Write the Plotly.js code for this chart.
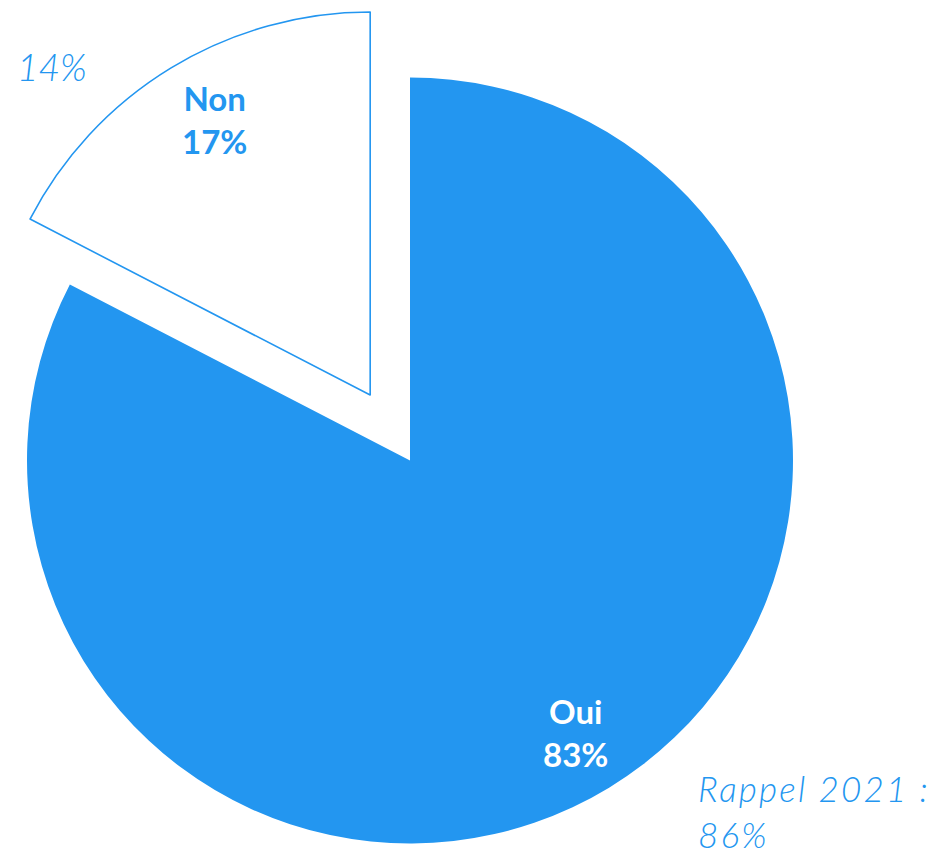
<!DOCTYPE html>
<html>
<head>
<meta charset="utf-8">
<script src="https://cdn.plot.ly/plotly-3.0.1.min.js"></script>
<style>
  html, body { margin: 0; padding: 0; overflow: hidden; background: #fff; width: 938px; height: 849px; }
  #chart { position: absolute; left: -50px; top: 0; width: 988px; height: 849px; }
  .spaced { letter-spacing: 2.2px; }
</style>
</head>
<body>
<div id="chart"></div>
<script>
// ---- data ----
const labels = ['Oui', 'Non'];
const values = [82.6, 17.4];          // slice sizes
const shownPct = [83, 17];            // percentages printed on the chart
const recallLabel = 'Rappel 2021 :';
const recallOui = 86;   // 2021 value for "Oui"
const recallNon = 14;   // 2021 value for "Non"
const pulledSlice = 'Non';

// ---- styling / geometry ----
const BLUE = '#2396F0';
const W = 988, H = 849, OFFSET = 50;  // plot div shifted 50px left
const R = 383;
const C1 = {x: 410 + OFFSET, y: 460.5};  // centre of the main pie (pixels)
const PULL = 0.2;
const LABEL_FRAC = 0.83;
const LABEL_NUDGE = {Oui: [0, 0], Non: [10, -4]};

const total = values.reduce((a, b) => a + b, 0);
// bisector angles (clockwise from 12 o'clock)
let acc = 0;
const mids = values.map(v => { const m = (acc + v / 2) / total * 2 * Math.PI; acc += v; return m; });
const pIdx = labels.indexOf(pulledSlice);
const C2 = {
  x: C1.x + Math.sin(mids[pIdx]) * PULL * R,
  y: C1.y - Math.cos(mids[pIdx]) * PULL * R
};

function domainFor(c) {
  return {
    x: [(c.x - R) / W, (c.x + R) / W],
    y: [(H - (c.y + R)) / H, (H - (c.y - R)) / H]
  };
}

const fills1 = labels.map(l => l === pulledSlice ? 'rgba(0,0,0,0)' : BLUE);
const fills2 = labels.map(l => l === pulledSlice ? '#ffffff' : 'rgba(0,0,0,0)');
const lines2 = labels.map(l => l === pulledSlice ? BLUE : 'rgba(0,0,0,0)');

const common = {
  type: 'pie', labels: labels, values: values, sort: false,
  direction: 'clockwise', rotation: 0, textinfo: 'none',
  hoverinfo: 'none', showlegend: false
};

const traces = [
  Object.assign({}, common, {
    domain: domainFor(C1),
    marker: {colors: fills1, line: {width: 0}}
  }),
  Object.assign({}, common, {
    domain: domainFor(C2),
    marker: {colors: fills2, line: {color: lines2, width: 1.6}}
  })
];

const annotations = labels.map((l, i) => {
  const c = (l === pulledSlice) ? C2 : C1;
  const px = c.x + Math.sin(mids[i]) * LABEL_FRAC * R + LABEL_NUDGE[l][0];
  const py = c.y - Math.cos(mids[i]) * LABEL_FRAC * R + LABEL_NUDGE[l][1];
  return {
    xref: 'paper', yref: 'paper', x: px / W, y: 1 - py / H,
    xanchor: 'center', yanchor: 'middle', showarrow: false,
    text: '<b>' + l + '<br>' + shownPct[i] + '%</b>',
    font: {family: 'Lato, sans-serif', size: 33, color: l === pulledSlice ? BLUE : '#ffffff'}
  };
});

annotations.push({
  xref: 'paper', yref: 'paper', x: (15 + OFFSET) / W, y: 1 - 66 / H,
  xanchor: 'left', yanchor: 'middle', showarrow: false,
  text: recallNon + '%',
  font: {family: 'Lato, sans-serif', size: 37, color: BLUE, weight: 300, style: 'italic'}
});
annotations.push({
  xref: 'paper', yref: 'paper', x: (696 + OFFSET) / W, y: 1 - 811 / H,
  xanchor: 'left', yanchor: 'middle', showarrow: false, align: 'left',
  text: recallLabel + '<br>' + recallOui + '%',
  font: {family: 'Lato, sans-serif', size: 35, color: BLUE, weight: 300, style: 'italic'}
});

const layout = {
  width: W, height: H,
  margin: {l: 0, r: 0, t: 0, b: 0},
  paper_bgcolor: '#ffffff',
  annotations: annotations
};

Plotly.newPlot('chart', traces, layout, {displayModeBar: false, staticPlot: true}).then(() => {
  const anns = document.querySelectorAll('.annotation-text');
  anns.forEach(a => { if (a.textContent.indexOf('Rappel') === 0) a.classList.add('spaced'); });
});
</script>
</body>
</html>
